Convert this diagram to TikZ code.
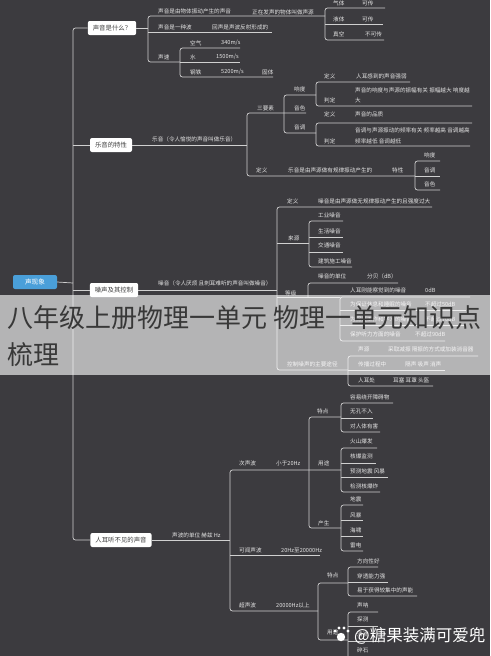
\documentclass[tikz,border=0pt]{standalone}
\usepackage{fontspec}
\setmainfont{Noto Sans CJK SC}
\definecolor{bgc}{HTML}{3C3B3F}
\definecolor{linec}{HTML}{D0D0D0}
\definecolor{txtc}{HTML}{E4E4E4}
\definecolor{rootc}{HTML}{4A9FD9}
\definecolor{bandtxt}{HTML}{383838}

\begin{document}
\begin{tikzpicture}[x=1pt,y=-1pt,
  lbl/.style={font=\fontsize{5.6}{6.5}\selectfont, text=txtc, inner sep=0pt, anchor=west},
  topic/.style={fill=white, rounded corners=2pt, text=black!75, font=\fontsize{6.4}{7}\selectfont, inner xsep=5pt, inner ysep=0pt, minimum height=14pt},
  rootbox/.style={fill=rootc, rounded corners=2pt, text=white, font=\fontsize{6.6}{7}\selectfont, minimum width=44pt, minimum height=14pt},
  lnk/.style={draw=linec, line width=0.7pt, rounded corners=2.5pt},
  bigtxt/.style={font=\fontsize{26}{27}\selectfont, text=bandtxt, inner sep=0pt, anchor=west}]

\fill[bgc] (0,0) rectangle (490,656);
\useasboundingbox (0,0) rectangle (490,656);

% root and the four topics
\node[rootbox] (root) at (35,282) {声现象};
\node[topic] (q1) at (112,28) {声音是什么？};
\node[topic] (q2) at (111,145) {乐音的特性};
\node[topic] (q3) at (114,290) {噪声及其控制};
\node[topic] (q4) at (121,540) {人耳听不见的声音};

\draw[lnk] (q1.west) -- (73,28) -- (73,540) -- (q4.west);
\draw[lnk] (73,145) -- (q2.west);
\draw[lnk] (73,290) -- (q3.west);
\draw[lnk] (root.east) -- (73,283);

% what is sound
\node[lbl] (q1a) at (158,11) {声音是由物体振动产生的声音};
\node[lbl] (q1a1) at (252,12) {正在发声的物体叫做声源};
\node[lbl] (q1g) at (333,3) {气体};  \node[lbl] (q1gv) at (362,3) {可传};
\node[lbl] (q1l) at (333,19) {液体}; \node[lbl] (q1lv) at (362,19) {可传};
\node[lbl] (q1z) at (333,34) {真空}; \node[lbl] (q1zv) at (365,34) {不可传};
\node[lbl] (q1b) at (158,27) {声音是一种波};
\node[lbl] (q1b1) at (212,27) {回声是声波反射形成的};
\node[lbl] (q1c) at (158,57) {声速};
\node[lbl] (q1k) at (190,43) {空气}; \node[lbl] (q1kv) at (221,43) {340m/s};
\node[lbl] (q1s) at (190,57) {水};   \node[lbl] (q1sv) at (216,57) {1500m/s};
\node[lbl] (q1t) at (190,72) {钢铁}; \node[lbl] (q1tv) at (221,72) {5200m/s};
\node[lbl] (q1u) at (262,72) {固体};

\draw[lnk] (q1.east) -- (148,28);
\draw[lnk] (325,16) -- (148,16) -- (148,62) -- (180,62);
\draw[lnk] (148,32) -- (272,32);
\draw[lnk] (385,8) -- (325,8) -- (325,40) -- (384,40);
\draw[lnk] (325,24) -- (383,24);
\draw[lnk] (240,48) -- (180,48) -- (180,77) -- (273,77);
\draw[lnk] (180,62) -- (240,62);

% musical sound
\node[lbl] (q2a) at (152,139) {乐音（令人愉悦的声音叫做乐音）};
\node[lbl] (q2s) at (257,108) {三要素};
\node[lbl] (q2x) at (294,89) {响度};
\node[lbl] (q2xd) at (324,76) {定义}; \node[lbl] (q2xdv) at (356,76) {人耳感到的声音强弱};
\node[lbl] (q2xp) at (324,100) {判定};
\node[lbl] (q2xpv) at (355,90) {声音的响度与声源的振幅有关 振幅越大 响度越};
\node[lbl] (q2xpw) at (355,100) {大};
\node[lbl] (q2y) at (294,108) {音色};
\node[lbl] (q2yd) at (324,114) {定义}; \node[lbl] (q2ydv) at (355,114) {声音的品质};
\node[lbl] (q2z) at (294,127) {音调};
\node[lbl] (q2zpv) at (355,130) {音调与声源振动的频率有关 频率越高 音调越高};
\node[lbl] (q2zpw) at (355,141) {频率越低 音调越低};
\node[lbl] (q2zp) at (324,141) {判定};
\node[lbl] (q2d) at (256,170) {定义};
\node[lbl] (q2dv) at (288,170) {乐音是由声源做有规律振动产生的};
\node[lbl] (q2t) at (392,170) {特性};
\node[lbl] (q2t1) at (424,155) {响度};
\node[lbl] (q2t2) at (424,170) {音调};
\node[lbl] (q2t3) at (424,184) {音色};

\draw[lnk] (q2.east) -- (247,145);
\draw[lnk] (306,113) -- (247,113) -- (247,176) -- (415,176);
\draw[lnk] (316,95) -- (284,95) -- (284,133) -- (316,133);
\draw[lnk] (410,82) -- (316,82) -- (316,106) -- (472,106);
\draw[lnk] (472,123) -- (316,123) -- (316,146) -- (470,146);
\draw[lnk] (440,161) -- (415,161) -- (415,190) -- (440,190);
\draw[lnk] (415,176) -- (440,176);

% noise
\node[lbl] (q3a) at (158,283) {噪音（令人厌烦 且刺耳难听的声音叫做噪音）};
\node[lbl] (q3d) at (287,201) {定义};
\node[lbl] (q3dv) at (318,201) {噪音是由声源做无规律振动产生的且强度过大};
\node[lbl] (q3s) at (288,238) {来源};
\node[lbl] (q3s1) at (318,215) {工业噪音};
\node[lbl] (q3s2) at (318,231) {生活噪音};
\node[lbl] (q3s3) at (318,245) {交通噪音};
\node[lbl] (q3s4) at (318,261) {建筑施工噪音};
\node[lbl] (q3g) at (285,293) {等级};
\node[lbl] (q3g1) at (318,276) {噪音的单位}; \node[lbl] (q3g1v) at (367,276) {分贝（dB）};
\node[lbl] (q3g2) at (350,290) {人耳刚能察觉到的噪音}; \node[lbl] (q3g2v) at (425,290) {0dB};
\node[lbl] (q3g3) at (350,304) {为保证休息和睡眠的噪音}; \node[lbl] (q3g3v) at (425,304) {不超过50dB};
\node[lbl] (q3g4) at (350,319) {为保证工作和学习的噪音}; \node[lbl] (q3g4v) at (425,319) {不超过70dB};
\node[lbl] (q3g5) at (350,334) {保护听力方面的噪音}; \node[lbl] (q3g5v) at (415,334) {不超过90dB};
\node[lbl] (q3c) at (287,364) {控制噪声的主要途径};
\node[lbl] (q3c1) at (358,349) {声源}; \node[lbl] (q3c1v) at (388,349) {采取减振 隔振的方式或加装消音器};
\node[lbl] (q3c2) at (358,364) {传播过程中}; \node[lbl] (q3c2v) at (405,364) {隔声 吸声 消声};
\node[lbl] (q3c3) at (358,380) {人耳处}; \node[lbl] (q3c3v) at (393,380) {耳塞 耳罩 头盔};

\draw[lnk] (q3.east) -- (277,290);
\draw[lnk] (432,207) -- (277,207) -- (277,370) -- (348,370);
\draw[lnk] (277,243) -- (309,243);
\draw[lnk] (343,221) -- (309,221) -- (309,267) -- (352,267);
\draw[lnk] (309,237) -- (343,237);
\draw[lnk] (309,252) -- (343,252);
\draw[lnk] (398,283) -- (308,283) -- (308,297);
\draw[lnk] (277,297) -- (340,297);
\draw[lnk] (470,297) -- (340,297) -- (340,341) -- (445,341);
\draw[lnk] (340,310) -- (466,310);
\draw[lnk] (340,325) -- (466,325);
\draw[lnk] (478,356) -- (348,356) -- (348,386) -- (433,386);
\draw[lnk] (348,370) -- (445,370);

% sounds we cannot hear
\node[lbl] (q4a) at (172,535) {声波的单位 赫兹 Hz};
\node[lbl] (q4i) at (239,463) {次声波}; \node[lbl] (q4iv) at (276,463) {小于20Hz};
\node[lbl] (q4it) at (317,411) {特点};
\node[lbl] (q4it1) at (350,397) {容易绕开障碍物};
\node[lbl] (q4it2) at (350,411) {无孔不入};
\node[lbl] (q4it3) at (350,426) {对人体有害};
\node[lbl] (q4iu) at (318,463) {用途};
\node[lbl] (q4iu1) at (350,441) {火山爆发};
\node[lbl] (q4iu2) at (350,456) {核爆监测};
\node[lbl] (q4iu3) at (350,471) {预测地震 风暴};
\node[lbl] (q4iu4) at (350,486) {检测核爆炸};
\node[lbl] (q4ic) at (318,523) {产生};
\node[lbl] (q4ic1) at (350,499) {地震};
\node[lbl] (q4ic2) at (350,515) {风暴};
\node[lbl] (q4ic3) at (350,530) {海啸};
\node[lbl] (q4ic4) at (350,545) {雷电};
\node[lbl] (q4h) at (239,550) {可闻声波}; \node[lbl] (q4hv) at (281,550) {20Hz至20000Hz};
\node[lbl] (q4u) at (239,605) {超声波}; \node[lbl] (q4uv) at (276,605) {20000Hz以上};
\node[lbl] (q4ut) at (327,575) {特点};
\node[lbl] (q4ut1) at (357,561) {方向性好};
\node[lbl] (q4ut2) at (357,576) {穿透能力强};
\node[lbl] (q4ut3) at (357,590) {易于获得较集中的声能};
\node[lbl] (q4uu) at (327,632) {用途};
\node[lbl] (q4uu1) at (357,605) {声呐};
\node[lbl] (q4uu2) at (357,619) {探测};
\node[lbl] (q4uu3) at (357,634) {清洗};
\node[lbl] (q4uu4) at (357,650) {碎石};

\draw[lnk] (q4.east) -- (230,540);
\draw[lnk] (341,470) -- (230,470) -- (230,611) -- (318,611);
\draw[lnk] (230,555) -- (320,555);
\draw[lnk] (341,417) -- (309,417) -- (309,528) -- (341,528);
\draw[lnk] (393,403) -- (341,403) -- (341,432) -- (380,432);
\draw[lnk] (341,418) -- (373,418);
\draw[lnk] (377,448) -- (341,448) -- (341,492) -- (380,492);
\draw[lnk] (341,463) -- (376,463);
\draw[lnk] (341,477) -- (388,477);
\draw[lnk] (363,505) -- (341,505) -- (341,551) -- (363,551);
\draw[lnk] (341,520) -- (363,520);
\draw[lnk] (341,536) -- (363,536);
\draw[lnk] (348,583) -- (318,583) -- (318,640) -- (348,640);
\draw[lnk] (378,567) -- (348,567) -- (348,596) -- (417,596);
\draw[lnk] (348,582) -- (388,582);
\draw[lnk] (378,612) -- (348,612) -- (348,662);
\draw[lnk] (348,626) -- (378,626);
\draw[lnk] (348,641) -- (378,641);

% title band
\fill[white, opacity=0.62] (0,295) rectangle (490,375);
\node[bigtxt] (ttl1) at (7,318) {八年级上册物理一单元 物理一单元知识点};
\node[bigtxt] (ttl2) at (7,355) {梳理};

% watermark
\fill[white] (341,637) circle (4.2);
\fill[white] (335,631) circle (1.6) (339,628) circle (1.6) (344,628) circle (1.6) (348,631) circle (1.6);
\node[font=\fontsize{16.5}{18}\selectfont, text=white, inner sep=0pt, anchor=west] (wm) at (354,636) {@糖果装满可爱兜};
\end{tikzpicture}
\end{document}
